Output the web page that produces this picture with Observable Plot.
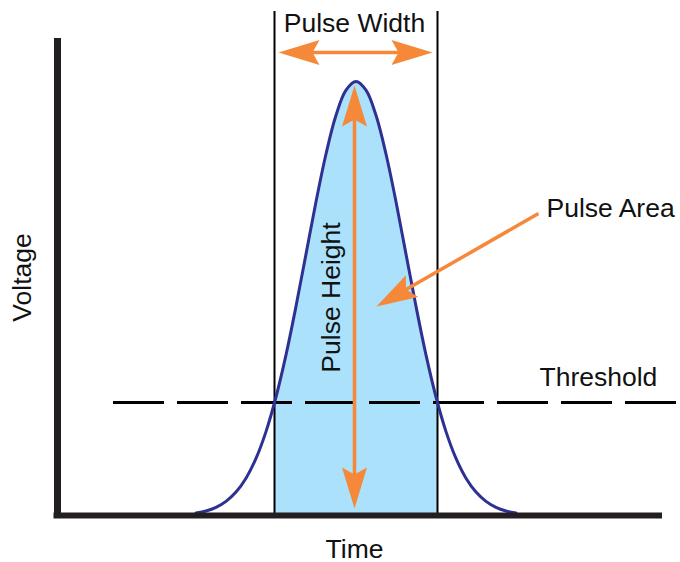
<!DOCTYPE html>
<html><head><meta charset="utf-8">
<script src="https://cdn.jsdelivr.net/npm/d3@7"></script>
<script src="https://cdn.jsdelivr.net/npm/@observablehq/plot@0.6"></script>
<style>body{margin:0;background:#fff}#chart svg{display:block}</style>
</head><body>
<div id="chart"></div>
<script>
// Pulse curve (time, voltage)
const curveTime = [13.85, 14.85, 15.85, 16.85, 17.85, 18.85, 19.85, 20.85, 21.85, 22.85, 23.85, 24.85, 25.85, 26.85, 27.85, 28.85, 29.85,
  30.85, 31.85, 32.85, 33.85, 34.85, 35.85, 36.85, 37.85, 38.85, 39.85, 40.85, 41.85, 42.85, 43.85, 44.85, 45.85];
const curveVoltage = [0.24, 0.45, 0.81, 1.41, 2.34, 3.73, 5.71, 8.39, 11.85, 16.06, 20.92, 26.14, 31.37, 36.15, 40.02, 42.53, 43.4,
  42.53, 40.02, 36.15, 31.37, 26.14, 20.92, 16.06, 11.85, 8.39, 5.71, 3.73, 2.34, 1.41, 0.81, 0.45, 0.24];
const pulseStart = 21.7;
const pulseEnd = 38.0;
const thresholdLevel = 11.3;

// Annotation arrows
const arrowNames = ["Pulse Width", "Pulse Height", "Pulse Area"];
const arrowFrom = [[22.1, 46.3], [29.7, 43.0], [48.1, 30.2]];
const arrowTo = [[37.5, 46.3], [29.7, 0.7], [31.9, 20.9]];
const arrowDouble = [true, true, false];

// Text labels
const labelTexts = ["Pulse Width", "Pulse Height", "Pulse Area", "Threshold", "Voltage", "Time"];

const orange = "#f6883a";
const ink = "#231f20";

const curve = curveTime.map((t, i) => ({t, v: curveVoltage[i]}));
const areaData = [{t: pulseStart, v: thresholdLevel}]
  .concat(curve.filter(d => d.t > pulseStart && d.t < pulseEnd))
  .concat([{t: pulseEnd, v: thresholdLevel}]);

const shafts = [], heads = [];
arrowNames.forEach((name, i) => {
  const [fx, fy] = arrowFrom[i], [tx, ty] = arrowTo[i];
  const dx = tx - fx, dy = ty - fy, len = Math.hypot(dx, dy);
  const ux = dx / len, uy = dy / len;
  const ang = Math.atan2(dx, dy) * 180 / Math.PI;
  heads.push({x: tx, y: ty, angle: ang});
  let sx = fx, sy = fy;
  if (arrowDouble[i]) { heads.push({x: fx, y: fy, angle: ang + 180}); sx += 2 * ux; sy += 2 * uy; }
  shafts.push({x1: sx, y1: sy, x2: tx - 2 * ux, y2: ty - 2 * uy});
});

const arrowHead = {
  draw(ctx) {
    ctx.moveTo(0, 0);
    ctx.lineTo(12.5, 41);
    ctx.lineTo(0, 34);
    ctx.lineTo(-12.5, 41);
    ctx.closePath();
  }
};

const txt = (i, x, y, opts = {}) => Plot.text([labelTexts[i]], {
  x: () => x, y: () => y, text: d => d, fontSize: 26.5, fill: "#111", lineAnchor: "bottom", ...opts
});

const chart = Plot.plot({
  width: 680,
  height: 562,
  margin: 0,
  x: {domain: [-5.7, 62.3], axis: null},
  y: {domain: [-4.7, 51.5], axis: null},
  style: {fontFamily: "'Liberation Sans', Arial, Helvetica, sans-serif", background: "#fff"},
  marks: [
    Plot.areaY(areaData, {x: "t", y1: 0, y2: "v", fill: "#abe1fa", curve: "catmull-rom"}),
    Plot.ruleX([pulseStart, pulseEnd], {y1: 0, y2: 50.4, stroke: "#000", strokeWidth: 2}),
    Plot.ruleY([thresholdLevel], {x1: 5.6, x2: 62.3, stroke: "#000", strokeWidth: 3, strokeDasharray: "51,13"}),
    Plot.line(curve, {x: "t", y: "v", stroke: "#2e3192", strokeWidth: 3, curve: "catmull-rom"}),
    Plot.ruleX([0], {y1: -0.3, y2: 47.7, stroke: ink, strokeWidth: 7}),
    Plot.ruleY([0], {x1: -0.35, x2: 60.5, stroke: ink, strokeWidth: 6}),
    Plot.link(shafts, {x1: "x1", y1: "y1", x2: "x2", y2: "y2", stroke: orange, strokeWidth: 3.5}),
    Plot.dot(heads, {x: "x", y: "y", rotate: "angle", symbol: arrowHead, fill: orange, stroke: "none", r: 5}),
    txt(0, 29.7, 48.35, {textAnchor: "middle"}),
    txt(1, 28.2, 21.8, {textAnchor: "middle", rotate: -90}),
    txt(2, 48.9, 29.9, {textAnchor: "start"}),
    txt(3, 48.2, 13.0, {textAnchor: "start"}),
    txt(4, -2.63, 23.8, {textAnchor: "middle", rotate: -90}),
    txt(5, 29.7, -4.2, {textAnchor: "middle"})
  ]
});
document.getElementById("chart").append(chart);
</script>
</body></html>
